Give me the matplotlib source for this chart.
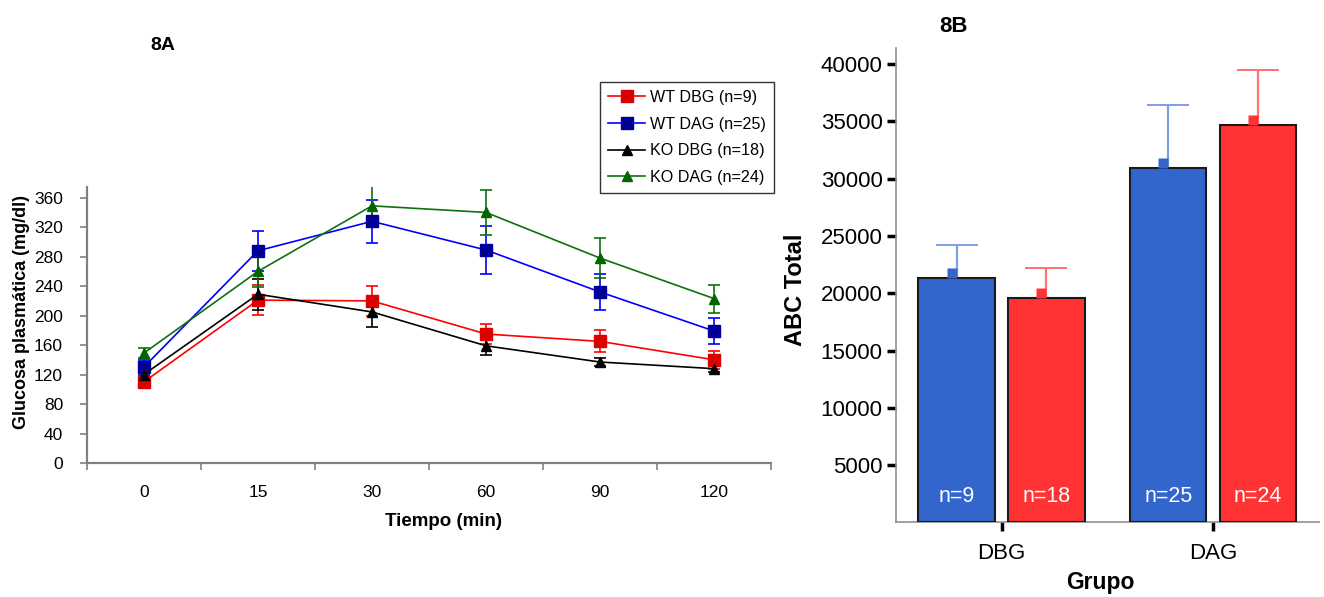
import matplotlib
matplotlib.use("Agg")
import matplotlib.pyplot as plt
import numpy as np
from matplotlib.transforms import offset_copy

plt.rcParams['font.family'] = ['Liberation Sans', 'DejaVu Sans']

# glucose curve (8A)
tiempos = ['0', '15', '30', '60', '90', '120']
wt_dbg = [110, 221, 220, 175, 165, 140]
wt_dbg_err = [8, 20, 20, 13, 15, 12]
wt_dag = [130, 288, 328, 289, 232, 179]
wt_dag_err = [10, 27, 29, 32, 24, 18]
ko_dbg = [120, 229, 205, 159, 137, 128]
ko_dbg_err = [6, 21, 20, 13, 5, 4]
ko_dag = [149, 260, 349, 340, 278, 223]
ko_dag_err = [7, 21, 28, 30, 27, 19]

# area under the curve (8B)
grupos = ['DBG', 'DAG']
abc_wt = [21350, 30950]
abc_wt_err = [2850, 5500]
abc_ko = [19600, 34700]
abc_ko_err = [2600, 4800]
n_wt = ['n=9', 'n=25']
n_ko = ['n=18', 'n=24']

fig = plt.figure(figsize=(13.24, 5.97), dpi=100)

# ---- 8A ----
ax1 = fig.add_axes([0.0655, 0.2245, 0.5171, 0.4628])
x = np.arange(len(tiempos))

series = [
    (wt_dbg, wt_dbg_err, 'WT DBG (n=9)', '#ff0000', '#dd0000', 's', 9),
    (wt_dag, wt_dag_err, 'WT DAG (n=25)', '#0000ff', '#000099', 's', 9),
    (ko_dbg, ko_dbg_err, 'KO DBG (n=18)', '#000000', '#000000', '^', 7),
    (ko_dag, ko_dag_err, 'KO DAG (n=24)', '#107010', '#006600', '^', 7),
]
handles, labels = [], []
for vals, err, lab, lc, mc, mk, ms in series:
    cont = ax1.errorbar(x, vals, yerr=err, color=lc, ecolor=lc, elinewidth=1.2,
                        capsize=4, capthick=1.2, lw=1.2, marker=mk, ms=ms,
                        mfc=mc, mec=mc, label=lab)
    handles.append(cont.lines[0])
    labels.append(lab)

ax1.set_xlim(-0.5, 5.5)
ax1.set_ylim(0, 375)
ax1.set_yticks(np.arange(0, 361, 40))
ax1.set_xticks(np.arange(-0.5, 5.6, 1))
ax1.set_xticklabels([])
ax1.set_xticks(x, minor=True)
ax1.set_xticklabels(tiempos, minor=True)
ax1.tick_params(axis='x', which='minor', length=0, pad=16, labelsize=12.5)
ax1.tick_params(axis='x', which='major', length=5, color='#808080', width=1.2)
ax1.tick_params(axis='y', length=5, color='#808080', width=1.2, pad=12, labelsize=12.5)
for s in ['top', 'right']:
    ax1.spines[s].set_visible(False)
for s in ['left', 'bottom']:
    ax1.spines[s].set_color('#808080')
    ax1.spines[s].set_linewidth(1.6)

fig.text(0.3353, 0.1273, 'Tiempo (min)', ha='center', va='center',
         fontsize=13.5, fontweight='bold')
fig.text(0.0166, 0.478, 'Glucosa plasmática (mg/dl)', ha='center', va='center',
         rotation=90, fontsize=13, fontweight='bold')
fig.text(0.1231, 0.9246, '8A', ha='center', va='center', fontsize=14, fontweight='bold')

leg = fig.legend(handles, labels, loc='upper left', bbox_to_anchor=(0.4532, 0.8626),
                 fontsize=11.6, frameon=True, fancybox=False, borderaxespad=0,
                 handlelength=2.3, labelspacing=0.72, borderpad=0.5, handletextpad=0.3)
leg.get_frame().set_edgecolor('black')
leg.get_frame().set_linewidth(1.0)

# ---- 8B ----
ax2 = fig.add_axes([0.6765, 0.1248, 0.3197, 0.7948])
g = np.arange(len(grupos))
w = 0.361
off = 0.212
blue = '#3366cc'
red = '#ff3333'

ax2.bar(g - off, abc_wt, w, color=blue, edgecolor='#1a1a1a', linewidth=1.5, zorder=3)
ax2.bar(g + off, abc_ko, w, color=red, edgecolor='#1a1a1a', linewidth=1.5, zorder=3)
ax2.errorbar(g - off, abc_wt, yerr=[[0, 0], abc_wt_err], fmt='none',
             ecolor='#7f9ee6', elinewidth=1.6, capsize=15, capthick=1.4, zorder=2)
ax2.errorbar(g + off, abc_ko, yerr=[[0, 0], abc_ko_err], fmt='none',
             ecolor='#ff7070', elinewidth=1.6, capsize=15, capthick=1.4, zorder=2)

# small mean markers sitting on top of each bar
tr = offset_copy(ax2.transData, fig=fig, x=-3.6, y=3.3, units='points')
ax2.plot(g - off, abc_wt, 's', ms=7, color=blue, mec='none', transform=tr, zorder=4)
ax2.plot(g + off, abc_ko, 's', ms=7, color=red, mec='none', transform=tr, zorder=4)

for xi, lab in zip(g - off, n_wt):
    ax2.text(xi, 2300, lab, color='white', ha='center', va='center', fontsize=15.5, zorder=5)
for xi, lab in zip(g + off, n_ko):
    ax2.text(xi, 2300, lab, color='white', ha='center', va='center', fontsize=15.5, zorder=5)

ax2.set_xlim(-0.5, 1.5)
ax2.set_ylim(0, 41400)
ax2.set_yticks(np.arange(5000, 40001, 5000))
ax2.set_xticks(g)
ax2.set_xticklabels(grupos)
ax2.tick_params(axis='y', length=6.5, width=2.5, color='black', pad=3, labelsize=16)
ax2.tick_params(axis='x', length=6.5, width=2.5, color='black', pad=8, labelsize=16)
for s in ['top', 'right']:
    ax2.spines[s].set_visible(False)
for s in ['left', 'bottom']:
    ax2.spines[s].set_color('#909090')
    ax2.spines[s].set_linewidth(1.2)

fig.text(0.6005, 0.514, 'ABC Total', ha='center', va='center', rotation=90,
         fontsize=17, fontweight='bold')
fig.text(0.8308, 0.0235, 'Grupo', ha='center', va='center', fontsize=16.5, fontweight='bold')
fig.text(0.7205, 0.9548, '8B', ha='center', va='center', fontsize=16, fontweight='bold')

fig.savefig('out.png', dpi=100)
